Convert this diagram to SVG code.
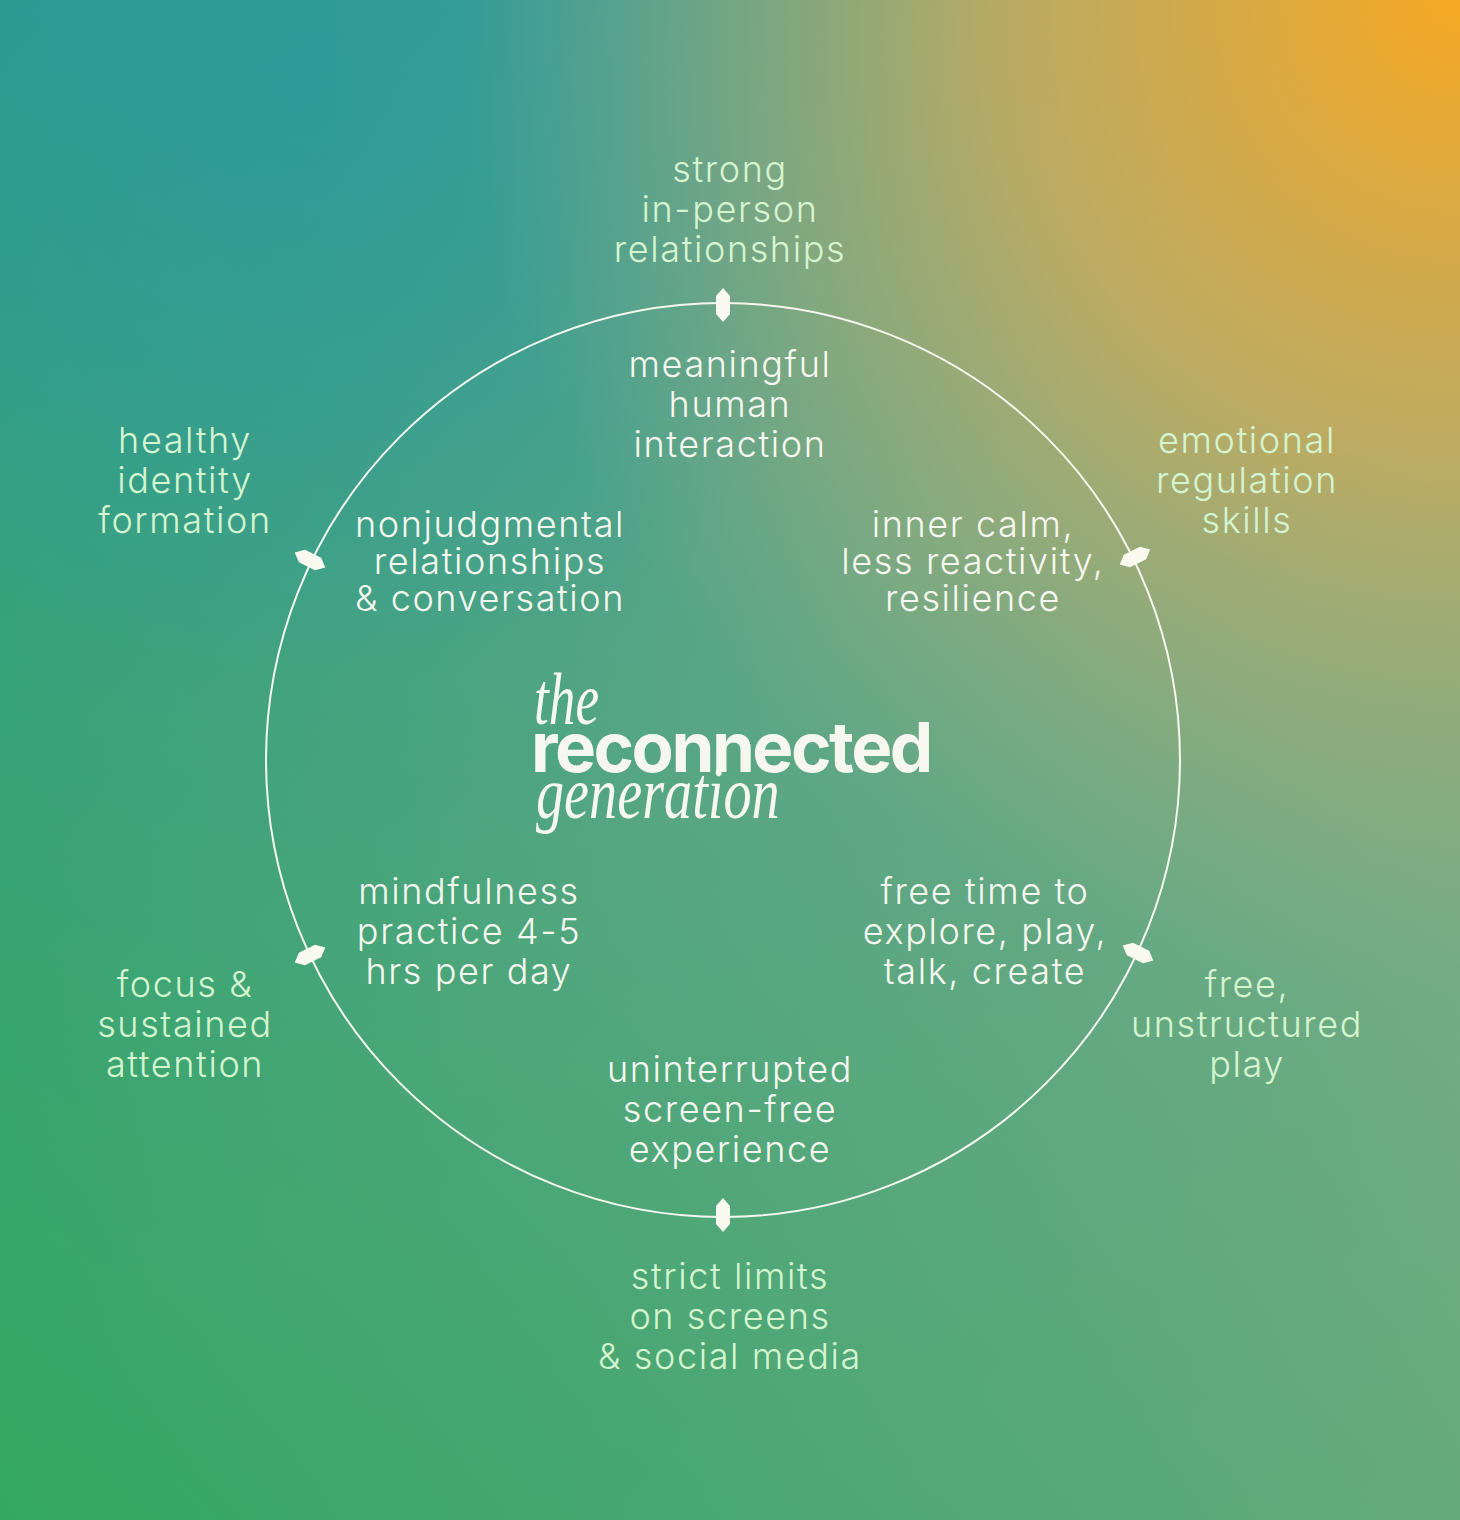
<svg xmlns="http://www.w3.org/2000/svg" width="1460" height="1520" viewBox="0 0 1460 1520">
<defs>
<linearGradient id="bg" x1="0" y1="0" x2="1" y2="1">
<stop offset="0" stop-color="#2a9898"/>
<stop offset="0.5" stop-color="#6aa88c"/>
<stop offset="1" stop-color="#7aae80"/>
</linearGradient>
<linearGradient id="bl" x1="1" y1="0" x2="0" y2="1">
<stop offset="0.3" stop-color="#2aa070" stop-opacity="0"/>
<stop offset="1" stop-color="#2ea85c" stop-opacity="0.9"/>
</linearGradient>
<radialGradient id="or" cx="1460" cy="0" r="1000" gradientUnits="userSpaceOnUse">
<stop offset="0" stop-color="#f6a823"/>
<stop offset="0.45" stop-color="#d2ac58" stop-opacity="0.8"/>
<stop offset="1" stop-color="#a8b080" stop-opacity="0"/>
</radialGradient>
<radialGradient id="tl" cx="300" cy="100" r="600" gradientUnits="userSpaceOnUse">
<stop offset="0" stop-color="#2a9a9c" stop-opacity="0.7"/>
<stop offset="1" stop-color="#2a9a9c" stop-opacity="0"/>
</radialGradient>
<polygon id="hex" points="0,-17 7,-9 7,9 0,17 -7,9 -7,-9" fill="#fbfaf0"/>
</defs>
<style>
.t{font-family:Inter,"Noto Sans",sans-serif;font-weight:300;font-size:36px;fill:#f6f8ef;text-anchor:middle;letter-spacing:1.6px}
.o{fill:#d4f5d0}
.s{font-family:"Liberation Serif",serif;font-style:italic;fill:#f6f8ef}
</style>
<rect width="1460" height="1520" fill="url(#bg)"/>
<rect width="1460" height="1520" fill="url(#bl)"/>
<rect width="1460" height="1520" fill="url(#tl)"/>
<rect width="1460" height="1520" fill="url(#or)"/>
<g id="connectors">
<circle cx="723" cy="760" r="457" fill="none" stroke="#f6f8ef" stroke-width="2"/>
<use href="#hex" transform="translate(723,305)"/>
<use href="#hex" transform="translate(723,1215)"/>
<use href="#hex" transform="translate(1135,557) rotate(64)"/>
<use href="#hex" transform="translate(1138,953) rotate(-64)"/>
<use href="#hex" transform="translate(310,560) rotate(-64)"/>
<use href="#hex" transform="translate(310,955) rotate(64)"/>
</g>
<g id="title">
<text class="s" x="534" y="724" font-size="74" transform="translate(534,0) scale(0.72,1) translate(-534,0)">the</text>
<text x="531" y="772" font-family="Inter,'Liberation Sans',sans-serif" font-weight="700" font-size="69" fill="#f6f8ef" letter-spacing="-2.5">reconnected</text>
<text class="s" x="536" y="818" font-size="74" transform="translate(536,0) scale(0.76,1) translate(-536,0)">generation</text>
</g>
<g id="n-top"><text class="t o" x="730" y="182">strong</text><text class="t o" x="730" y="222">in-person</text><text class="t o" x="730" y="262">relationships</text></g>
<g id="i-top"><text class="t" x="730" y="377">meaningful</text><text class="t" x="730" y="417">human</text><text class="t" x="730" y="457">interaction</text></g>
<g id="n-tr"><text class="t o" x="1247" y="453">emotional</text><text class="t o" x="1247" y="493">regulation</text><text class="t o" x="1247" y="533">skills</text></g>
<g id="i-tr"><text class="t" x="973" y="537">inner calm,</text><text class="t" x="973" y="574">less reactivity,</text><text class="t" x="973" y="611">resilience</text></g>
<g id="n-tl"><text class="t o" x="185" y="453">healthy</text><text class="t o" x="185" y="493">identity</text><text class="t o" x="185" y="533">formation</text></g>
<g id="i-tl"><text class="t" x="490" y="537">nonjudgmental</text><text class="t" x="490" y="574">relationships</text><text class="t" x="490" y="611">&amp; conversation</text></g>
<g id="n-bl"><text class="t o" x="185" y="997">focus &amp;</text><text class="t o" x="185" y="1037">sustained</text><text class="t o" x="185" y="1077">attention</text></g>
<g id="i-bl"><text class="t" x="469" y="904">mindfulness</text><text class="t" x="469" y="944">practice 4-5</text><text class="t" x="469" y="984">hrs per day</text></g>
<g id="n-br"><text class="t o" x="1247" y="997">free,</text><text class="t o" x="1247" y="1037">unstructured</text><text class="t o" x="1247" y="1077">play</text></g>
<g id="i-br"><text class="t" x="985" y="904">free time to</text><text class="t" x="985" y="944">explore, play,</text><text class="t" x="985" y="984">talk, create</text></g>
<g id="i-bot"><text class="t" x="730" y="1082">uninterrupted</text><text class="t" x="730" y="1122">screen-free</text><text class="t" x="730" y="1162">experience</text></g>
<g id="n-bot"><text class="t o" x="730" y="1289">strict limits</text><text class="t o" x="730" y="1329">on screens</text><text class="t o" x="730" y="1369">&amp; social media</text></g>
</svg>
